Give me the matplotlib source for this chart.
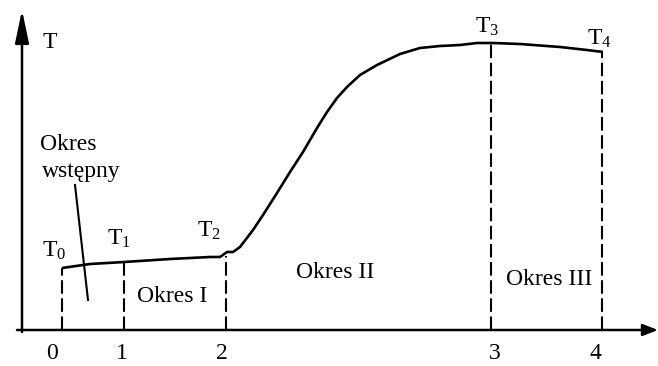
"""
Temperature course of the process: T over time, split into periods.
Schematic curve redrawn in a matplotlib figure.
"""
import matplotlib
matplotlib.use("Agg")
import matplotlib.pyplot as plt

plt.rcParams["font.family"] = ["Liberation Serif", "DejaVu Serif"]
plt.rcParams["mathtext.fontset"] = "custom"
plt.rcParams["mathtext.rm"] = "Liberation Serif"
plt.rcParams["mathtext.it"] = "Liberation Serif:italic"

# --- data (arbitrary time / temperature units) ---
curve_t = [4.0, 6.8, 10.2, 14.8, 18.8, 19.8, 20.5, 21.1, 21.8, 23.1, 24.1,
           25.5, 26.8, 28.1, 29.5, 30.5, 31.5, 32.5, 33.8, 35.5, 37.8, 39.8,
           41.8, 43.8, 45.5, 47.1, 49.8, 53.8, 56.5, 58.1]
curve_T = [6.2, 6.6, 6.8, 7.1, 7.3, 7.3, 7.8, 7.8, 8.3, 10.0, 11.5,
           13.7, 15.8, 17.8, 20.2, 21.8, 23.2, 24.3, 25.5, 26.5, 27.6, 28.2,
           28.4, 28.5, 28.7, 28.7, 28.6, 28.3, 28.0, 27.8]

stage_t = [4.0, 10.2, 20.4, 46.9, 58.0]          # moments 0..4
stage_T = [6.2, 6.8, 7.4, 28.7, 27.8]            # T0..T4 on the curve
tick_pos = [3.0, 10.0, 20.0, 47.3, 57.3]
tick_labels = ["0", "1", "2", "3", "4"]

point_labels = [r"$\mathrm{T}_0$", r"$\mathrm{T}_1$", r"$\mathrm{T}_2$",
                r"$\mathrm{T}_3$", r"$\mathrm{T}_4$"]
point_xy = [(2.0, 7.3), (8.5, 8.5), (17.5, 9.3), (45.3, 29.7), (56.5, 28.5)]

period_labels = ["Okres I", "Okres II", "Okres III"]
period_xy = [(15.0, 2.8), (31.3, 5.2), (52.7, 4.5)]

FS = 17

fig = plt.figure(figsize=(6.58, 3.66), dpi=100)
ax = fig.add_axes([0, 0, 1, 1])
ax.set_xlim(-2.2, 63.6)
ax.set_ylim(-3.6, 33.0)
ax.axis("off")

# axes with arrows
ax.annotate("", xy=(0, 32.0), xytext=(0, -0.2),
            arrowprops=dict(arrowstyle="-|>,head_length=2.0,head_width=0.42",
                            lw=1.8, color="black", shrinkA=0, shrinkB=0,
                            mutation_scale=10))
ax.annotate("", xy=(63.6, 0), xytext=(-0.5, 0),
            arrowprops=dict(arrowstyle="-|>,head_length=0.9,head_width=0.35",
                            lw=1.8, color="black", shrinkA=0, shrinkB=0,
                            mutation_scale=10))

# temperature curve + dashed stage lines
ax.plot(curve_t, curve_T, color="black", lw=1.9, solid_capstyle="butt")
ax.vlines(stage_t, 0, stage_T, colors="black", lw=1.5,
          linestyles=[(0, (6.5, 2.2))])

# labels
ax.text(2.1, 28.2, "T", fontsize=FS, ha="left", va="baseline")
for lab, (x, y) in zip(point_labels, point_xy):
    ax.text(x, y, lab, fontsize=FS, ha="left", va="baseline")
for lab, (x, y) in zip(period_labels, period_xy):
    ax.text(x, y, lab, fontsize=FS, ha="center", va="baseline")
for lab, x in zip(tick_labels, tick_pos):
    ax.text(x, -2.9, lab, fontsize=FS, ha="center", va="baseline")

# "Okres wstępny" with its pointer
ax.text(1.8, 18.0, "Okres", fontsize=FS, ha="left", va="baseline")
ax.text(2.0, 15.3, "wstępny", fontsize=FS, ha="left", va="baseline")
ax.plot([5.3, 6.6], [14.5, 3.0], color="black", lw=1.5)

fig.savefig("out.png", dpi=100)
